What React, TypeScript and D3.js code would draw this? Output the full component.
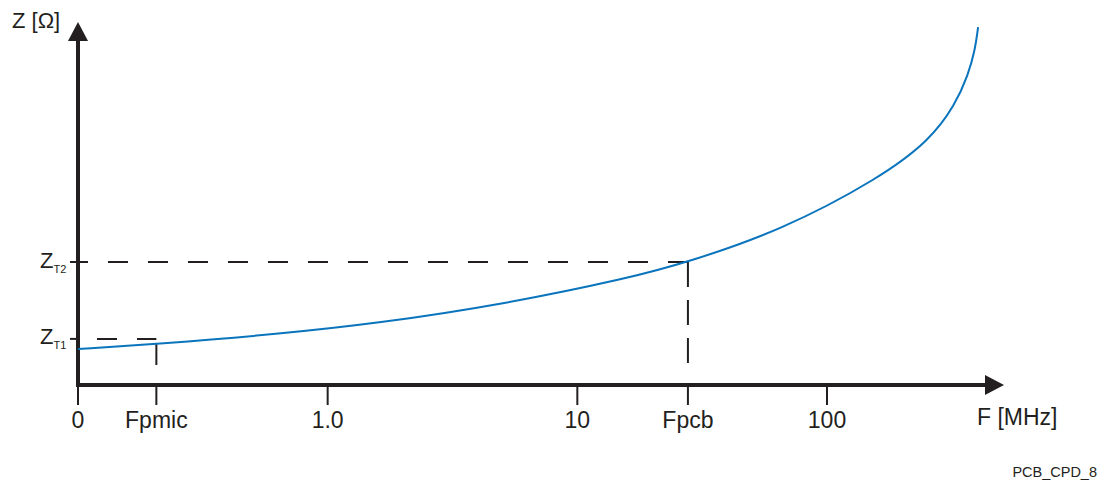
import React from "react";
import * as d3 from "d3";

const freqs = [0.1, 0.206, 0.642, 1.616, 4.89, 16.23, 27.73, 64.8, 163.1, 258.8, 325.9, 367.4, 391.9, 402.9];
const impedance = [9.92, 11.29, 14.05, 17.08, 22.04, 29.48, 33.88, 42.42, 57.02, 67.49, 77.13, 85.4, 92.29, 98.62];

const xTickValues = [0.1, 0.206, 1, 10, 27.73, 100];
const xTickLabels = ["0", "Fpmic", "1.0", "10", "Fpcb", "100"];

const zT1 = 12.7;
const zT2 = 33.88;
const fPmic = 0.206;
const fPcb = 27.73;

const W = 1108;
const H = 482;
const INK = "#231f20";
const BLUE = "#0a74bd";
const FONT = "'Liberation Sans', Arial, sans-serif";

export default function App() {
  const x = d3.scaleLog().domain([0.1, 100]).range([78, 827]);
  const y = d3.scaleLinear().domain([0, 100]).range([385, 22]);
  const pts: [number, number][] = freqs.map((f, i) => [x(f), y(impedance[i])]);
  const line = d3.line<[number, number]>().x((d) => d[0]).y((d) => d[1]).curve(d3.curveBasis);
  const y0 = y(0);
  const yAxisTop = 40;
  const xAxisEnd = 986;
  const zCurvePmic = y(impedance[1]);

  return (
    <svg
      width={W}
      height={H}
      style={{ position: "absolute", left: 0, top: 0, background: "#fff" }}
      fontFamily={FONT}
    >
      {/* horizontal dashed reference lines */}
      <line x1={88} x2={x(fPcb)} y1={y(zT2)} y2={y(zT2)} stroke={INK} strokeWidth={2} strokeDasharray="20 20" strokeDashoffset={20} />
      <line x1={77} x2={x(fPmic)} y1={y(zT1)} y2={y(zT1)} stroke={INK} strokeWidth={2} strokeDasharray="20 20" strokeDashoffset={20} />
      {/* vertical reference lines */}
      <line x1={x(fPcb)} x2={x(fPcb)} y1={y(zT2)} y2={365} stroke={INK} strokeWidth={2} strokeDasharray="25 13" />
      <line x1={x(fPmic)} x2={x(fPmic)} y1={zCurvePmic} y2={365} stroke={INK} strokeWidth={2} />

      {/* y ticks */}
      <line x1={70} x2={88} y1={y(zT2)} y2={y(zT2)} stroke={INK} strokeWidth={2} />
      <line x1={70} x2={78} y1={y(zT1)} y2={y(zT1)} stroke={INK} strokeWidth={2} />

      {/* x ticks */}
      {xTickValues.map((v, i) => (
        <g key={i}>
          <line x1={x(v)} x2={x(v)} y1={387} y2={405} stroke={INK} strokeWidth={2} />
          <text x={x(v)} y={428} textAnchor="middle" fontSize={23} fill={INK}>
            {xTickLabels[i]}
          </text>
        </g>
      ))}

      {/* axes */}
      <line x1={78} x2={78} y1={yAxisTop} y2={y0 + 2} stroke={INK} strokeWidth={4} />
      <line x1={76} x2={xAxisEnd} y1={y0} y2={y0} stroke={INK} strokeWidth={4} />
      <path d={`M78,22 L68,41 L88,41 Z`} fill={INK} />
      <path d={`M1004,${y0} L985,${y0 - 10} L985,${y0 + 10} Z`} fill={INK} />

      {/* curve */}
      <path d={line(pts) || ""} fill="none" stroke={BLUE} strokeWidth={2} />

      {/* y labels */}
      <text x={40} y={y(zT2) + 6} fontSize={22} fill={INK}>
        Z<tspan fontSize={11} dy={5}>T2</tspan>
      </text>
      <text x={40} y={y(zT1) + 5} fontSize={22} fill={INK}>
        Z<tspan fontSize={11} dy={5}>T1</tspan>
      </text>

      {/* axis titles */}
      <text x={12} y={28} fontSize={22} fill={INK}>Z [Ω]</text>
      <text x={977} y={425} fontSize={23} fill={INK}>F [MHz]</text>
      <text x={1097} y={477} fontSize={14.5} textAnchor="end" fill={INK}>PCB_CPD_8</text>
    </svg>
  );
}
